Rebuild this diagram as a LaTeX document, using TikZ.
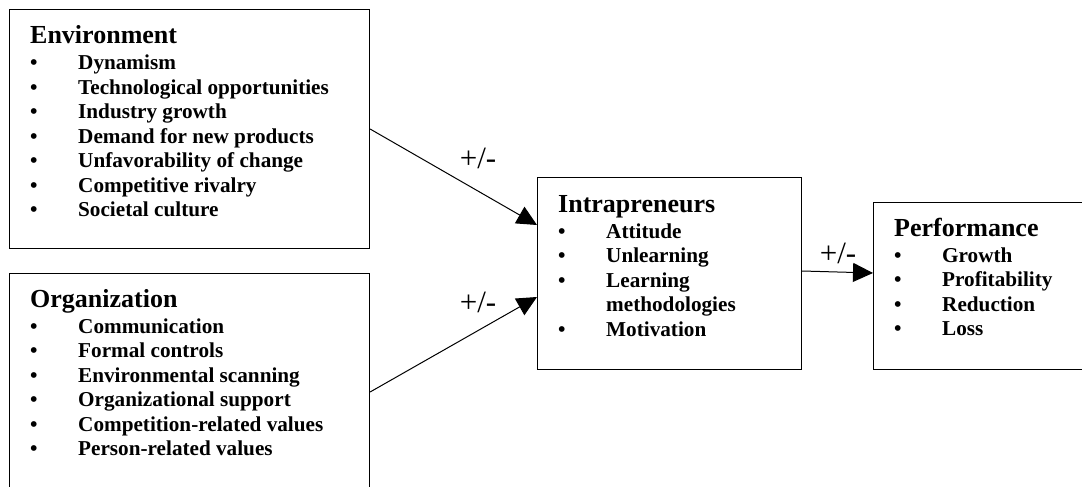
\documentclass[tikz,border=0pt]{standalone}
\usepackage{fontspec}
\setmainfont{Liberation Serif}
\usetikzlibrary{arrows.meta}
\newcommand{\hd}[1]{\multicolumn{2}{@{}l@{}}{\fontsize{26}{26}\selectfont\bfseries #1}\\[1.5pt]}
\tikzset{
  box/.style={draw, line width=1.1pt, anchor=north west, inner sep=0pt},
  txt/.style={anchor=base west, inner sep=0pt, font=\fontsize{21.2}{24.5}\selectfont\bfseries},
  link/.style={draw, line width=1pt, -{Triangle[length=20pt,width=19pt]}},
  sign/.style={inner sep=0pt, font=\fontsize{31}{31}\selectfont}
}
\begin{document}
\begin{tikzpicture}[x=1pt,y=-1pt]
\clip (0,0) rectangle (1082,487);
\fill[white] (0,0) rectangle (1082,487);
% boxes
\node[box, minimum width=360pt, minimum height=239pt] (env) at (9,9) {};
\node[box, minimum width=360pt, minimum height=230pt] (org) at (9,273) {};
\node[box, minimum width=264pt, minimum height=192pt] (intra) at (537,177) {};
\node[box, minimum width=230pt, minimum height=167pt] (perf) at (873,202) {};
% texts
\node[txt] (envtxt) at ([xshift=21pt,yshift=-35pt]env.north west) {\begin{tabular}[t]{@{}p{48pt}@{}l@{}}
\hd{Environment}
• & Dynamism\\
• & Technological opportunities\\
• & Industry growth\\
• & Demand for new products\\
• & Unfavorability of change\\
• & Competitive rivalry\\
• & Societal culture
\end{tabular}};
\node[txt] (orgtxt) at ([xshift=21pt,yshift=-34pt]org.north west) {\begin{tabular}[t]{@{}p{48pt}@{}l@{}}
\hd{Organization}
• & Communication\\
• & Formal controls\\
• & Environmental scanning\\
• & Organizational support\\
• & Competition-related values\\
• & Person-related values
\end{tabular}};
\node[txt] (intratxt) at ([xshift=21pt,yshift=-35pt]intra.north west) {\begin{tabular}[t]{@{}p{48pt}@{}l@{}}
\hd{Intrapreneurs}
• & Attitude\\
• & Unlearning\\
• & Learning\\
  & methodologies\\
• & Motivation
\end{tabular}};
\node[txt] (perftxt) at ([xshift=21pt,yshift=-34pt]perf.north west) {\begin{tabular}[t]{@{}p{48pt}@{}l@{}}
\hd{Performance}
• & Growth\\
• & Profitability\\
• & Reduction\\
• & Loss
\end{tabular}};
% connectors
\draw[link] ([yshift=-120pt]env.north east) -- ([yshift=-48pt]intra.north west);
\draw[link] ([yshift=-119pt]org.north east) -- ([yshift=-120pt]intra.north west);
\draw[link] ([yshift=-94pt]intra.north east) -- ([yshift=-71pt]perf.north west);
% signs
\node[sign] (s1) at (478,158) {+/-};
\node[sign] (s2) at (478,302) {+/-};
\node[sign] (s3) at (838,253) {+/-};
\end{tikzpicture}
\end{document}
